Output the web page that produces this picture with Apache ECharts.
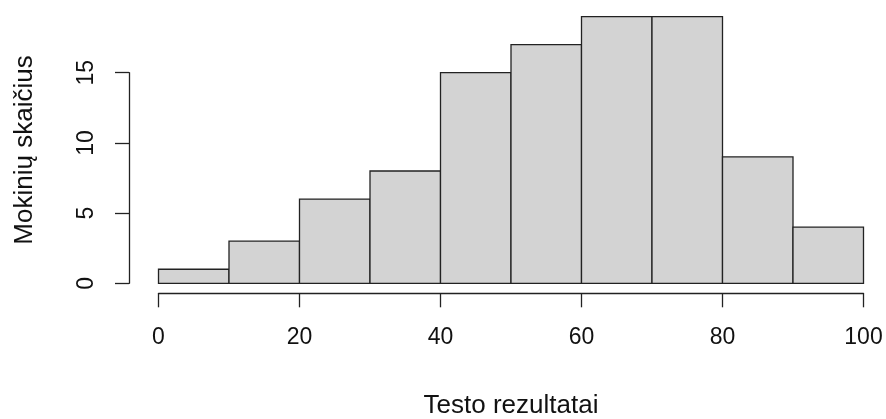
<!DOCTYPE html>
<html>
<head>
<meta charset="utf-8">
<script src="https://cdn.jsdelivr.net/npm/echarts@6/dist/echarts.min.js"></script>
<style>html,body{margin:0;padding:0;background:#fff}#c{width:886px;height:419px}</style>
</head>
<body>
<div id="c"></div>
<script>
var binStarts = [0, 10, 20, 30, 40, 50, 60, 70, 80, 90];
var binEnds = [10, 20, 30, 40, 50, 60, 70, 80, 90, 100];
var counts = [1, 3, 6, 8, 15, 17, 19, 19, 9, 4];
var xTicks = [0, 20, 40, 60, 80, 100];
var yTicks = [0, 5, 10, 15];
var xTitle = 'Testo rezultatai';
var yTitle = 'Mokinių skaičius';

var data = binStarts.map(function (s, i) { return [s, binEnds[i], counts[i]]; });
var font = '"Liberation Sans", Arial, sans-serif';
var chart = echarts.init(document.getElementById('c'), null, {renderer: 'canvas'});
chart.setOption({
  animation: false,
  backgroundColor: '#fff',
  grid: {left: 158.5, right: 22.5, top: 72.7, bottom: 135.7, containLabel: false, outerBoundsMode: 'none'},
  xAxis: {
    type: 'value', min: xTicks[0], max: xTicks[xTicks.length - 1], interval: 20,
    offset: 10,
    axisLine: {show: true, onZero: false, lineStyle: {color: '#222', width: 1.3}},
    axisTick: {show: true, length: 14, lineStyle: {color: '#222', width: 1.3}},
    axisLabel: {margin: 33, fontFamily: font, fontSize: 23, color: '#111'},
    splitLine: {show: false},
    name: xTitle, nameLocation: 'middle', nameGap: 100,
    nameTextStyle: {fontFamily: font, fontSize: 26, color: '#111'}
  },
  yAxis: {
    type: 'value', min: yTicks[0], max: yTicks[yTicks.length - 1], interval: 5,
    offset: 29.5,
    axisLine: {show: true, onZero: false, lineStyle: {color: '#222', width: 1.3}},
    axisTick: {show: true, length: 14, lineStyle: {color: '#222', width: 1.3}},
    axisLabel: {margin: 31, rotate: 90, fontFamily: font, fontSize: 23, color: '#111'},
    splitLine: {show: false}
  },
  graphic: [{
    type: 'text', x: 25, y: 150, rotation: Math.PI / 2,
    style: {text: yTitle, font: '26px ' + font, fill: '#111', align: 'center', verticalAlign: 'middle'}
  }],
  series: [{
    type: 'custom',
    clip: false,
    data: data,
    encode: {x: [0, 1], y: 2},
    renderItem: function (params, api) {
      var p1 = api.coord([api.value(0), api.value(2)]);
      var p2 = api.coord([api.value(1), 0]);
      return {
        type: 'rect',
        shape: {x: p1[0], y: p1[1], width: p2[0] - p1[0], height: p2[1] - p1[1]},
        style: {fill: '#d3d3d3', stroke: '#222', lineWidth: 1.3}
      };
    }
  }]
});
</script>
</body>
</html>
